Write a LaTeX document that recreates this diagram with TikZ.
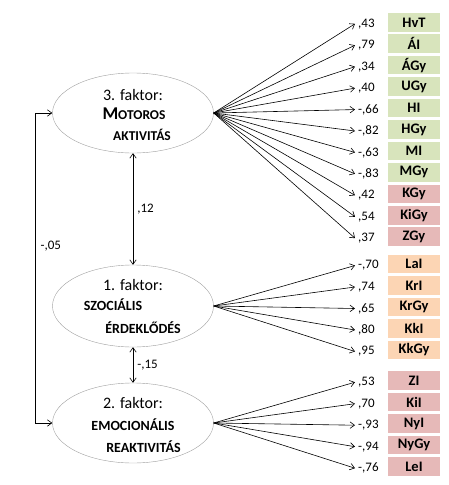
\documentclass[tikz,border=0pt]{standalone}
\usepackage{fontspec}
\setmainfont{Carlito}
\usetikzlibrary{shapes,arrows.meta,positioning,calc}
\definecolor{indgreen}{HTML}{D8E4BC}
\definecolor{indpink}{HTML}{E6B9B8}
\definecolor{indorange}{HTML}{FCD5B4}

\begin{document}
\begin{tikzpicture}[x=1pt,y=-1pt,>={Straight Barb[length=4.5pt,width=6.5pt]},
  factor/.style={ellipse, draw=gray!75, minimum width=161, minimum height=80, inner sep=0},
  ftitle/.style={anchor=base, inner sep=0, font=\fontsize{16}{16}\selectfont},
  fname/.style={anchor=base, inner sep=0, font=\fontsize{14}{14}\selectfont\bfseries},
  ind/.style={rectangle, fill=#1, minimum width=52, minimum height=18.5, inner sep=0,
    font=\fontsize{14.5}{15}\selectfont\bfseries},
  val/.style={anchor=west, inner sep=3, font=\fontsize{13}{13}\selectfont},
  load/.style={->, line width=0.6}]
\useasboundingbox (0,0) rectangle (449,485);

% factors
\node[factor] (mot) at (133,113) {};
\node[factor, minimum height=82] (soc) at (133,306) {};
\node[factor] (emo) at (133,423) {};

\node[ftitle] (motT) at (133,100) {3. faktor:};
\node[fname] (motN) at (134,119) {{\fontsize{18}{18}\selectfont M}{\fontsize{13.5}{14}\selectfont OTOROS}};
\node[fname, font=\fontsize{13.5}{14}\selectfont\bfseries] (motA) at (142,140) {AKTIVITÁS};

\node[ftitle] (socT) at (133,290) {1. faktor:};
\node[fname] (socN) at (113,310) {SZOCIÁLIS};
\node[fname] (socA) at (143,333) {ÉRDEKLŐDÉS};

\node[ftitle] (emoT) at (133,408) {2. faktor:};
\node[fname] (emoN) at (133,430) {EMOCIONÁLIS};
\node[fname] (emoA) at (143.5,452) {REAKTIVITÁS};

% correlations
\draw[<->, line width=0.6] (mot.south) -- node[val, anchor=west, xshift=1] (r12) {,12} (soc.north);
\draw[<->, line width=0.6] (soc.south) -- node[val, anchor=west, xshift=1] (r15) {-,15} (emo.north);
\draw[<->, line width=0.6] (mot.west) -- ++(-17,0) coordinate (lt)
  -- (lt |- emo.west) node[val, pos=.43, xshift=2] (r05) {-,05} -- (emo.west);

% indicators
\foreach \lab/\v/\col [count=\i from 0] in {HvT/{,43}/indgreen, ÁI/{,79}/indgreen,
    ÁGy/{,34}/indgreen, UGy/{,40}/indgreen, HI/{-,66}/indgreen, HGy/{-,82}/indgreen,
    MI/{-,63}/indgreen, MGy/{-,83}/indgreen, KGy/{,42}/indpink, KiGy/{,54}/indpink,
    ZGy/{,37}/indpink}
{
  \node[ind=\col] (m\i) at (414,22.3+21.44*\i) {\lab};
  \node[val] (mv\i) at (355,23.8+21.44*\i) {\v};
  \draw[load] (mot.east) -- (mv\i.west);
}
\foreach \lab/\v [count=\i from 0] in {LaI/{-,70}, KrI/{,74}, KrGy/{,65}, KkI/{,80}, KkGy/{,95}}
{
  \node[ind=indorange] (s\i) at (414,264+21.5*\i) {\lab};
  \node[val] (sv\i) at (355,265.5+21.5*\i) {\v};
  \draw[load] (soc.east) -- (sv\i.west);
}
\foreach \lab/\v [count=\i from 0] in {ZI/{,53}, KiI/{,70}, NyI/{-,93}, NyGy/{-,94}, LeI/{-,76}}
{
  \node[ind=indpink] (e\i) at (414,380.7+21.5*\i) {\lab};
  \node[val] (ev\i) at (355,382.2+21.5*\i) {\v};
  \draw[load] (emo.east) -- (ev\i.west);
}
\end{tikzpicture}
\end{document}
